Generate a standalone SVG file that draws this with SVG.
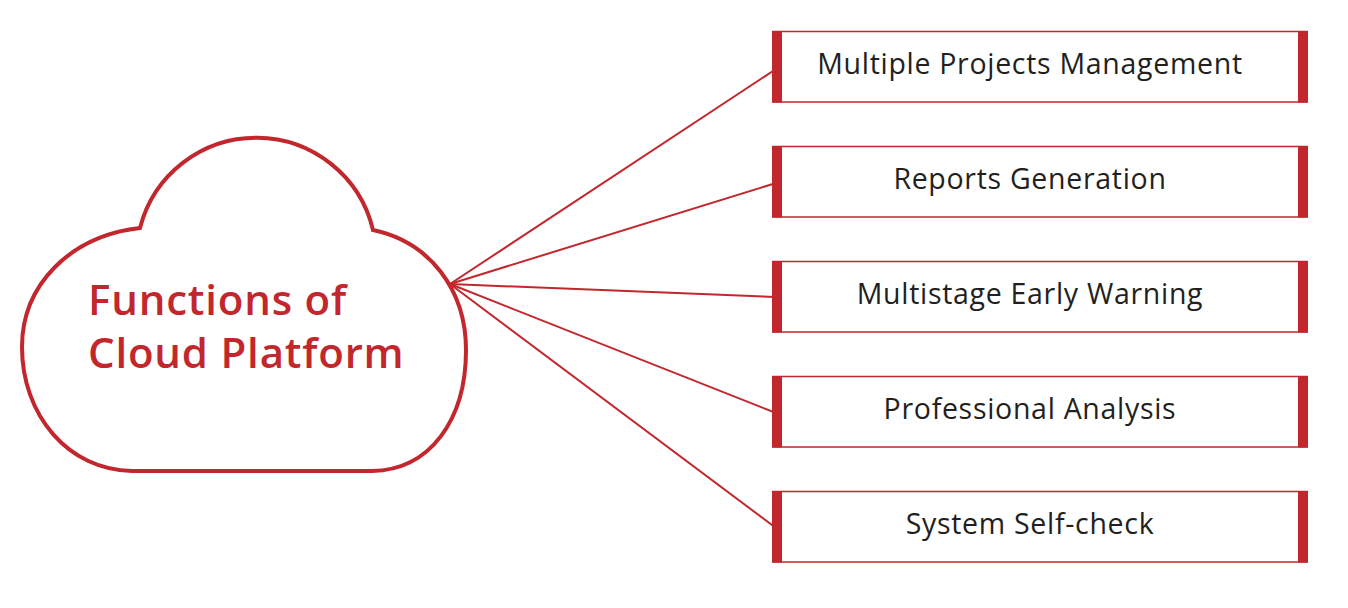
<svg xmlns="http://www.w3.org/2000/svg" width="1348" height="608" viewBox="0 0 1348 608">
<style>
.box{fill:#fff;stroke:#c1272d;stroke-width:1.5}
.bar{fill:#c1272d}
.lbl{font-family:"Open Sans","Noto Sans",sans-serif;font-size:28.5px;font-weight:500;letter-spacing:0.7px;fill:#231f20;text-anchor:middle}
.title{font-family:"Open Sans","Noto Sans",sans-serif;font-size:42px;font-weight:600;letter-spacing:0.8px;fill:#c1272d}
.conn{stroke:#c1272d;stroke-width:2;fill:none}
</style>
<rect width="1348" height="608" fill="#fff"/>
<g id="cloud">
<path d="M 140,228 C 70,236 22,285 22,347 C 22,415 68,470 132,471 L 372,471 C 430,470 466,420 466,350 C 466,290 430,242 373,230 A 120 120 0 0 0 140,228 Z" fill="#fff" stroke="#c1272d" stroke-width="4"/>
<text class="title" x="88" y="315">Functions of</text>
<text class="title" x="88" y="368">Cloud Platform</text>
</g>
<g id="connectors">
<line class="conn" x1="450" y1="284" x2="776" y2="69"/>
<line class="conn" x1="450" y1="284" x2="776" y2="183"/>
<line class="conn" x1="450" y1="284" x2="776" y2="297"/>
<line class="conn" x1="450" y1="284" x2="776" y2="413"/>
<line class="conn" x1="450" y1="284" x2="776" y2="528"/>
</g>
<g id="n1"><rect class="box" x="773" y="31.5" width="534" height="70.5"/><rect class="bar" x="772" y="31" width="10" height="71.5"/><rect class="bar" x="1298" y="31" width="10" height="71.5"/><text class="lbl" x="1030" y="74">Multiple Projects Management</text></g>
<g id="n2"><rect class="box" x="773" y="146.5" width="534" height="70.5"/><rect class="bar" x="772" y="146" width="10" height="71.5"/><rect class="bar" x="1298" y="146" width="10" height="71.5"/><text class="lbl" x="1030" y="189">Reports Generation</text></g>
<g id="n3"><rect class="box" x="773" y="261.5" width="534" height="70.5"/><rect class="bar" x="772" y="261" width="10" height="71.5"/><rect class="bar" x="1298" y="261" width="10" height="71.5"/><text class="lbl" x="1030" y="304">Multistage Early Warning</text></g>
<g id="n4"><rect class="box" x="773" y="376.5" width="534" height="70.5"/><rect class="bar" x="772" y="376" width="10" height="71.5"/><rect class="bar" x="1298" y="376" width="10" height="71.5"/><text class="lbl" x="1030" y="419">Professional Analysis</text></g>
<g id="n5"><rect class="box" x="773" y="491.5" width="534" height="70.5"/><rect class="bar" x="772" y="491" width="10" height="71.5"/><rect class="bar" x="1298" y="491" width="10" height="71.5"/><text class="lbl" x="1030" y="534">System Self-check</text></g>
</svg>
